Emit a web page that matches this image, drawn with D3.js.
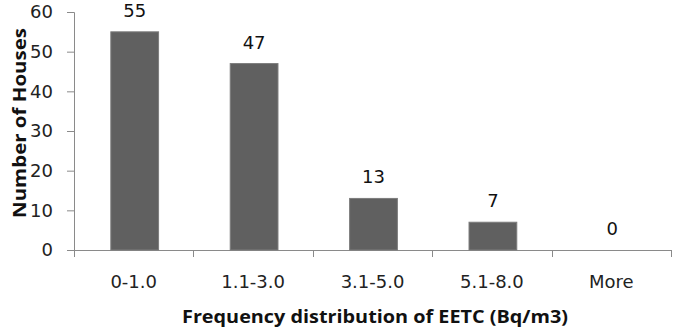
<!DOCTYPE html>
<html><head><meta charset="utf-8">
<script src="https://cdn.jsdelivr.net/npm/d3@7"></script>
<style>body{margin:0;background:#fff}svg{display:block}</style>
</head><body><svg id="c" width="675" height="329"></svg>
<script>
const categories = ["0-1.0","1.1-3.0","3.1-5.0","5.1-8.0","More"];
const values = [55,47,13,7,0];
const yTicks = [0,10,20,30,40,50,60];
const yTitle = "Number of Houses";
const xTitle = "Frequency distribution of EETC (Bq/m3)";

const svg = d3.select("#c");
const font = "'DejaVu Sans', sans-serif";
const titleFont = "'Open Sans', sans-serif";
const mLeft = 74, mRight = 671, mTop = 12, mBottom = 250;
const x = d3.scaleBand().domain(categories).range([mLeft, mRight]).padding(0);
const y = d3.scaleLinear().domain([0,60]).range([mBottom, mTop]);
const axisColor = "#8a8a8a";

// y axis
const ya = svg.append("g").attr("transform",`translate(${mLeft},0)`)
  .call(d3.axisLeft(y).tickValues(yTicks).tickSize(7).tickPadding(14));
ya.select(".domain").attr("stroke",axisColor).attr("d",`M-7,${mTop+0.5}H0.5V${mBottom+0.5}H-7`);
ya.selectAll(".tick line").attr("stroke",axisColor);
ya.selectAll(".tick text").attr("font-family",font).attr("font-size",18).attr("fill","#222");

// x axis line and boundary ticks
const g = svg.append("g");
g.append("line").attr("x1",mLeft).attr("x2",mRight+1).attr("y1",mBottom+0.5).attr("y2",mBottom+0.5).attr("stroke",axisColor);
const bounds = categories.map(c=>x(c)).concat([x(categories[categories.length-1])+x.bandwidth()]);
g.selectAll("line.b").data(bounds).join("line").attr("class","b")
  .attr("x1",d=>Math.round(d)+0.5).attr("x2",d=>Math.round(d)+0.5)
  .attr("y1",mBottom).attr("y2",mBottom+7).attr("stroke",axisColor);
g.selectAll("text.xl").data(categories).join("text").attr("class","xl")
  .attr("x",d=>x(d)+x.bandwidth()/2).attr("y",mBottom+38)
  .attr("text-anchor","middle").attr("font-family",font).attr("font-size",18).attr("fill","#222")
  .text(d=>d);

// bars
const bw = x.bandwidth()*0.4;
svg.selectAll("rect.bar").data(values.map((v,i)=>({c:categories[i],v})).filter(d=>d.v>0)).join("rect").attr("class","bar")
  .attr("x",d=>x(d.c)+x.bandwidth()/2-bw/2+1).attr("width",bw)
  .attr("y",d=>y(d.v)).attr("height",d=>mBottom-y(d.v))
  .attr("fill","#606060").attr("stroke","#7c7c7c").attr("stroke-width",1);

// value labels
svg.selectAll("text.vl").data(values.map((v,i)=>({c:categories[i],v}))).join("text").attr("class","vl")
  .attr("x",d=>x(d.c)+x.bandwidth()/2+1).attr("y",d=>y(d.v)-15)
  .attr("text-anchor","middle").attr("font-family",font).attr("font-size",18).attr("fill","#111")
  .text(d=>d.v);

// titles
svg.append("text").attr("transform",`translate(26,123) rotate(-90)`)
  .attr("text-anchor","middle").attr("font-family",titleFont).attr("font-weight","bold").attr("font-size",18).attr("fill","#111")
  .attr("textLength",190).attr("lengthAdjust","spacingAndGlyphs")
  .text(yTitle);
svg.append("text").attr("x",375).attr("y",323)
  .attr("text-anchor","middle").attr("font-family",titleFont).attr("font-weight","bold").attr("font-size",18).attr("fill","#111")
  .attr("textLength",386).attr("lengthAdjust","spacingAndGlyphs")
  .text(xTitle);
</script></body></html>
